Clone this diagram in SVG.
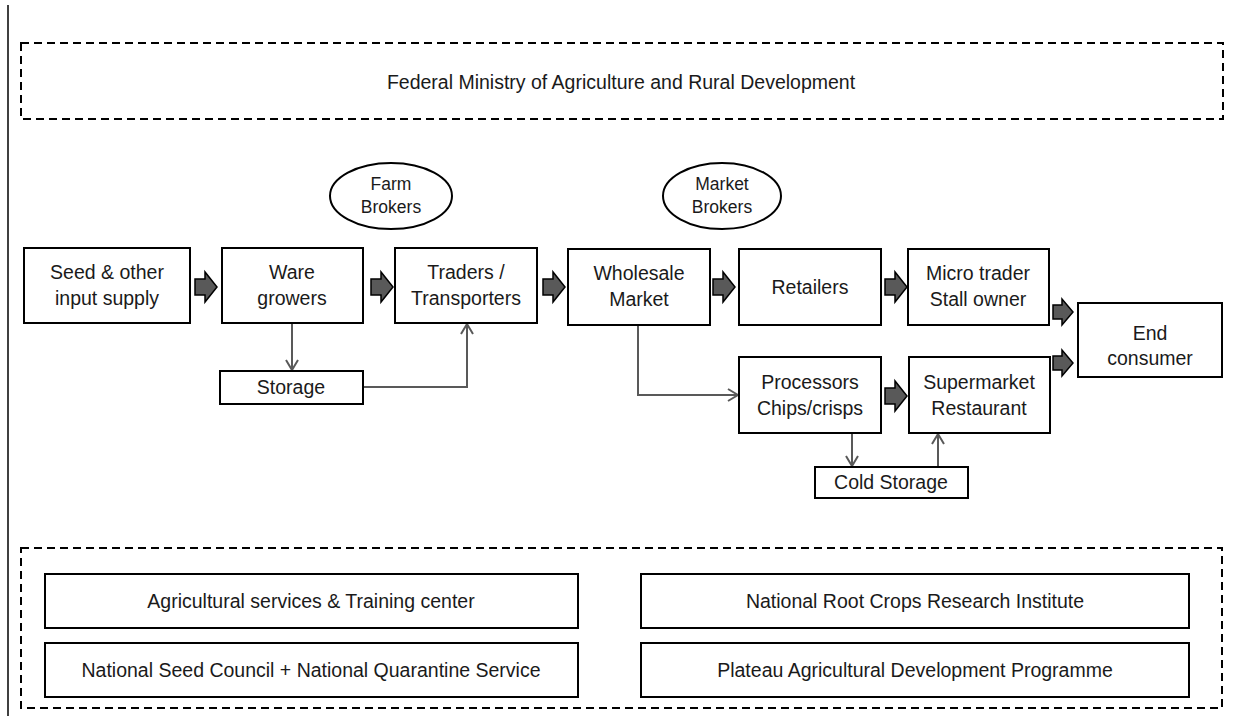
<svg xmlns="http://www.w3.org/2000/svg" xmlns:xlink="http://www.w3.org/1999/xlink" width="1234" height="727" viewBox="0 0 1234 727">
<style>
.bg{fill:#ffffff}
.box{fill:#ffffff;stroke:#000000;stroke-width:2}
.dash{fill:none;stroke:#000000;stroke-width:2;stroke-dasharray:8,5}
.t{font-family:"Liberation Sans",Arial,sans-serif;font-size:19.5px;fill:#1a1a1a;text-anchor:middle}
.ts{font-family:"Liberation Sans",Arial,sans-serif;font-size:17.5px;fill:#1a1a1a;text-anchor:middle}
.conn{fill:none;stroke:#595959;stroke-width:2}
.barrow{fill:#595959;stroke:#000000;stroke-width:1.5;stroke-linejoin:miter}
</style>
<defs>
<marker id="open" viewBox="0 0 12 14" refX="11" refY="7" markerWidth="12" markerHeight="14" markerUnits="userSpaceOnUse" orient="auto">
<path d="M1,1 L11,7 L1,13" fill="none" stroke="#595959" stroke-width="2"/>
</marker>
<path id="ba" d="M0,-8 H10 V-15 L22,0 L10,15 V8 H0 Z"/>
<path id="bs" d="M0,-7 H9 V-13 L20,0 L9,13 V7 H0 Z"/>
</defs>
<rect class="bg" x="0" y="0" width="1234" height="727"/>
<line x1="8" y1="5" x2="8" y2="716" stroke="#000" stroke-width="1.5"/>

<g id="ministry">
<rect class="dash" x="21" y="43" width="1202" height="76"/>
<text class="t" x="621" y="89">Federal Ministry of Agriculture and Rural Development</text>
</g>

<g id="connectors">
<path class="conn" d="M292,323 V370" marker-end="url(#open)"/>
<path class="conn" d="M363,387 H467 V324" marker-end="url(#open)"/>
<path class="conn" d="M638,326 V395 H738" marker-end="url(#open)"/>
<path class="conn" d="M852,433 V466" marker-end="url(#open)"/>
<path class="conn" d="M938,467 V434" marker-end="url(#open)"/>
<use href="#ba" class="barrow" transform="translate(195,287)"/>
<use href="#ba" class="barrow" transform="translate(371,287)"/>
<use href="#ba" class="barrow" transform="translate(543,287)"/>
<use href="#ba" class="barrow" transform="translate(713,287)"/>
<use href="#ba" class="barrow" transform="translate(885,287)"/>
<use href="#ba" class="barrow" transform="translate(885,396)"/>
<use href="#bs" class="barrow" transform="translate(1053,312)"/>
<use href="#bs" class="barrow" transform="translate(1053,363)"/>
</g>

<g id="farm-brokers">
<ellipse class="box" cx="391" cy="196" rx="61" ry="33"/>
<text class="ts" x="391" y="190">Farm</text>
<text class="ts" x="391" y="213">Brokers</text>
</g>
<g id="market-brokers">
<ellipse class="box" cx="722" cy="196" rx="59" ry="33"/>
<text class="ts" x="722" y="190">Market</text>
<text class="ts" x="722" y="213">Brokers</text>
</g>

<g id="seed">
<rect class="box" x="24" y="248" width="166" height="75"/>
<text class="t" x="107" y="279">Seed &amp; other</text>
<text class="t" x="107" y="305">input supply</text>
</g>
<g id="ware">
<rect class="box" x="222" y="248" width="141" height="75"/>
<text class="t" x="292" y="279">Ware</text>
<text class="t" x="292" y="305">growers</text>
</g>
<g id="traders">
<rect class="box" x="395" y="248" width="142" height="75"/>
<text class="t" x="466" y="279">Traders /</text>
<text class="t" x="466" y="305">Transporters</text>
</g>
<g id="wholesale">
<rect class="box" x="568" y="249" width="142" height="76"/>
<text class="t" x="639" y="280">Wholesale</text>
<text class="t" x="639" y="306">Market</text>
</g>
<g id="retailers">
<rect class="box" x="739" y="249" width="142" height="76"/>
<text class="t" x="810" y="294">Retailers</text>
</g>
<g id="micro">
<rect class="box" x="908" y="249" width="141" height="76"/>
<text class="t" x="978" y="280">Micro trader</text>
<text class="t" x="978" y="306">Stall owner</text>
</g>
<g id="end">
<rect class="box" x="1078" y="303" width="144" height="74"/>
<text class="t" x="1150" y="340">End</text>
<text class="t" x="1150" y="365">consumer</text>
</g>
<g id="storage">
<rect class="box" x="220" y="371" width="143" height="33"/>
<text class="t" x="291" y="394">Storage</text>
</g>
<g id="processors">
<rect class="box" x="739" y="357" width="142" height="76"/>
<text class="t" x="810" y="389">Processors</text>
<text class="t" x="810" y="415">Chips/crisps</text>
</g>
<g id="supermarket">
<rect class="box" x="909" y="357" width="141" height="76"/>
<text class="t" x="979" y="389">Supermarket</text>
<text class="t" x="979" y="415">Restaurant</text>
</g>
<g id="cold-storage">
<rect class="box" x="815" y="467" width="153" height="31"/>
<text class="t" x="891" y="489">Cold Storage</text>
</g>

<g id="support">
<rect class="dash" x="21" y="548" width="1201" height="160"/>
</g>
<g id="ag-services">
<rect class="box" x="45" y="574" width="533" height="54"/>
<text class="t" x="311" y="608">Agricultural services &amp; Training center</text>
</g>
<g id="seed-council">
<rect class="box" x="45" y="643" width="533" height="54"/>
<text class="t" x="311" y="677">National Seed Council + National Quarantine Service</text>
</g>
<g id="nrcri">
<rect class="box" x="641" y="574" width="548" height="54"/>
<text class="t" x="915" y="608">National Root Crops Research Institute</text>
</g>
<g id="padp">
<rect class="box" x="641" y="643" width="548" height="54"/>
<text class="t" x="915" y="677">Plateau Agricultural Development Programme</text>
</g>
</svg>
